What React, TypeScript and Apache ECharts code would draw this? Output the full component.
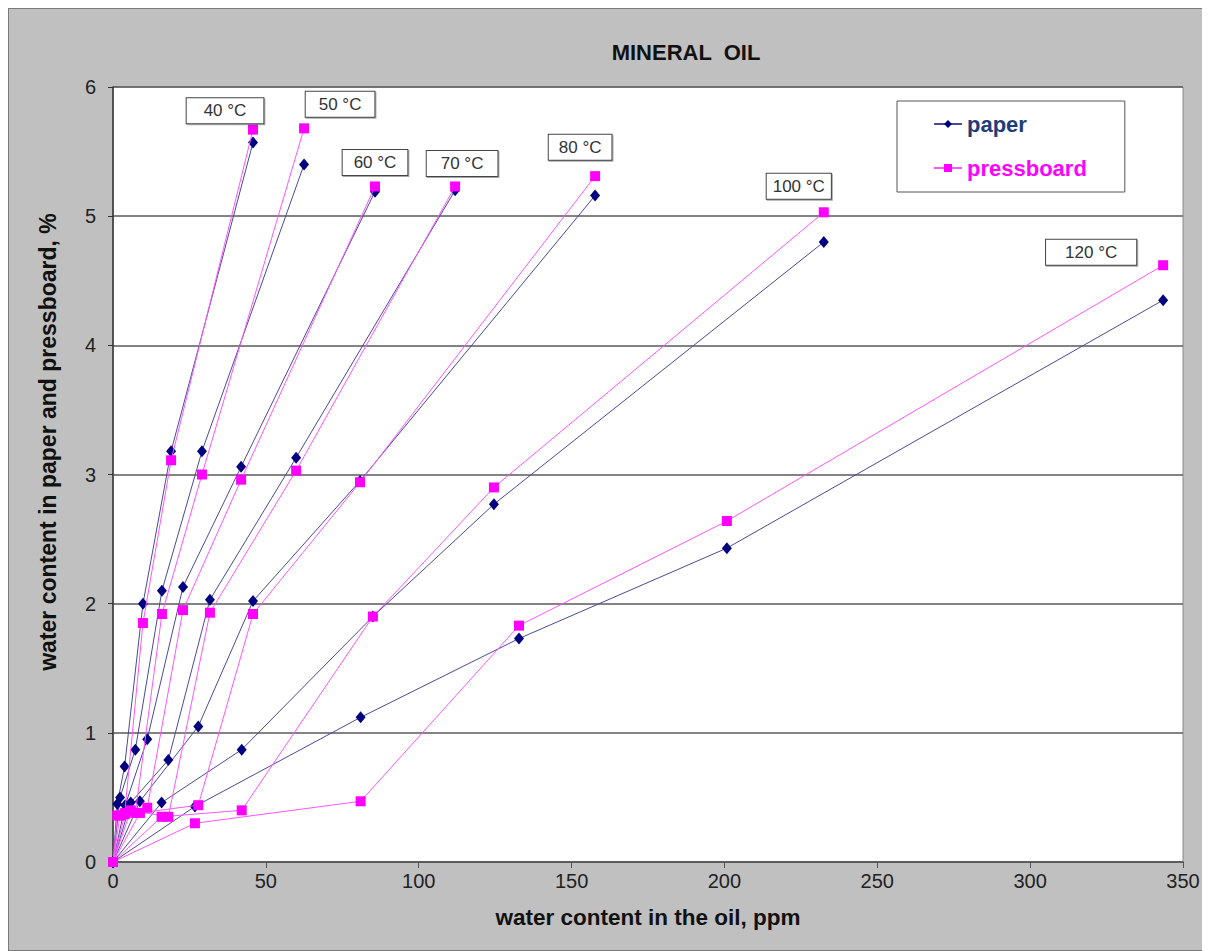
import React, { useEffect, useRef } from "react";
import * as echarts from "echarts";

// ---- data ----
const temperatures = ["40 °C", "50 °C", "60 °C", "70 °C", "80 °C", "100 °C", "120 °C"];

// water content in oil, ppm (shared by paper and pressboard points of one isotherm)
const oil40 = [0, 1.4, 3.8, 9.8, 19, 45.8];
const oil50 = [0, 2.3, 7.3, 16, 29.1, 62.5];
const oil60 = [0, 4, 11.2, 22.9, 41.9, 85.7];
const oil70 = [0, 5.8, 18.1, 31.7, 59.9, 111.9];
const oil80 = [0, 8.8, 27.9, 45.8, 80.8, 157.7];
const oil100 = [0, 15.9, 42.1, 85, 124.6, 232.5];
const oil120 = [0, 26.8, 81, 132.8, 200.8, 343.5];

// water content in paper, %
const paper40 = [0, 0.45, 0.74, 2.0, 3.18, 5.57];
const paper50 = [0, 0.5, 0.87, 2.1, 3.18, 5.4];
const paper60 = [0, 0.44, 0.95, 2.13, 3.06, 5.19];
const paper70 = [0, 0.46, 0.79, 2.03, 3.13, 5.2];
const paper80 = [0, 0.47, 1.05, 2.02, 2.95, 5.16];
const paper100 = [0, 0.46, 0.87, 1.9, 2.77, 4.8];
const paper120 = [0, 0.43, 1.12, 1.73, 2.43, 4.35];

// water content in pressboard, %
const board40 = [0, 0.36, 0.37, 1.85, 3.11, 5.67];
const board50 = [0, 0.36, 0.38, 1.92, 3.0, 5.68];
const board60 = [0, 0.38, 0.42, 1.95, 2.96, 5.23];
const board70 = [0, 0.4, 0.35, 1.93, 3.03, 5.23];
const board80 = [0, 0.38, 0.44, 1.92, 2.94, 5.31];
const board100 = [0, 0.35, 0.4, 1.9, 2.9, 5.03];
const board120 = [0, 0.3, 0.47, 1.83, 2.64, 4.62];

const xTicks = [0, 50, 100, 150, 200, 250, 300, 350];
const yTicks = [0, 1, 2, 3, 4, 5, 6];

const oilList = [oil40, oil50, oil60, oil70, oil80, oil100, oil120];
const paperList = [paper40, paper50, paper60, paper70, paper80, paper100, paper120];
const boardList = [board40, board50, board60, board70, board80, board100, board120];

// label box placement relative to the last pressboard point (pixels) and box padding
const labelOffsets = [[-28, -19], [36, -24], [0, -24], [7, -23], [-15, -29], [-25, -26], [-72, -13]];
const labelPadX = [17, 13, 11, 14, 10, 6, 19];

const FONT = "'Liberation Sans', Arial, Helvetica, sans-serif";
const PAPER_COLOR = "#000080";
const BOARD_COLOR = "#ff00ff";

export default function App() {
  const ref = useRef<HTMLDivElement>(null);

  useEffect(() => {
    if (!ref.current) return;
    const chart = echarts.init(ref.current, undefined, { renderer: "svg" });

    const series: any[] = [];
    temperatures.forEach((t, k) => {
      const oil = oilList[k];
      series.push({
        name: "paper",
        type: "line",
        data: oil.map((x, i) => [x, paperList[k][i]]),
        symbol: "diamond",
        symbolSize: [10, 12],
        itemStyle: { color: PAPER_COLOR },
        lineStyle: { color: "#4a4a98", width: 1 },
        z: 2,
      });
    });
    temperatures.forEach((t, k) => {
      const oil = oilList[k];
      const n = oil.length;
      series.push({
        name: "pressboard",
        type: "line",
        data: oil.map((x, i) => {
          const item: any = { value: [x, boardList[k][i]] };
          if (i === n - 1) {
            item.label = {
              show: true,
              position: "inside",
              offset: labelOffsets[k],
              formatter: t,
              fontFamily: FONT,
              fontSize: 17,
              color: "#333",
              backgroundColor: "#fff",
              borderColor: "#444",
              borderWidth: 1,
              padding: [5, labelPadX[k], 3, labelPadX[k]],
              shadowColor: "rgba(0,0,0,0.35)",
              shadowOffsetX: 1,
              shadowOffsetY: 1,
              shadowBlur: 1,
            };
          }
          return item;
        }),
        symbol: "rect",
        symbolSize: 10,
        itemStyle: { color: BOARD_COLOR },
        lineStyle: { color: "#ff55ff", width: 1 },
        z: 3,
      });
    });

    chart.setOption({
      animation: false,
      backgroundColor: "#c0c0c0",
      textStyle: { fontFamily: FONT },
      grid: {
        left: 104,
        right: 26,
        top: 78,
        bottom: 88,
        show: true,
        backgroundColor: "#ffffff",
        borderColor: "#8a8a8a",
        borderWidth: 1,
      },
      graphic: [
        {
          type: "text",
          x: 677,
          y: 43,
          style: {
            text: "MINERAL  OIL",
            font: `bold 22px ${FONT}`,
            fill: "#111",
            textAlign: "center",
            textVerticalAlign: "middle",
          },
        },
        {
          type: "text",
          x: 39,
          y: 433,
          rotation: Math.PI / 2,
          style: {
            text: "water content in paper and pressboard, %",
            font: `bold 23px ${FONT}`,
            fill: "#111",
            textAlign: "center",
            textVerticalAlign: "middle",
          },
        },
      ],
      legend: {
        data: [
          { name: "paper", textStyle: { color: "#1f3d7a" } },
          { name: "pressboard", textStyle: { color: BOARD_COLOR } },
        ],
        orient: "vertical",
        left: 888,
        top: 92,
        itemWidth: 28,
        itemHeight: 10,
        itemGap: 22,
        padding: [12, 38, 13, 36],
        backgroundColor: "#ffffff",
        borderColor: "#555",
        borderWidth: 1,
        textStyle: { fontFamily: FONT, fontSize: 22, fontWeight: "bold" },
        selectedMode: false,
      },
      xAxis: {
        type: "value",
        min: 0,
        max: 350,
        interval: 50,
        name: "water content in the oil, ppm",
        nameLocation: "middle",
        nameGap: 44,
        nameTextStyle: { fontFamily: FONT, fontSize: 22.5, fontWeight: "bold", color: "#111" },
        axisLine: { show: true, lineStyle: { color: "#555", width: 1.5 } },
        axisTick: { show: true, length: 6, lineStyle: { color: "#555" } },
        axisLabel: {
          fontFamily: FONT,
          fontSize: 20,
          color: "#222",
          margin: 9,
          formatter: (v: number) => (xTicks.includes(v) ? String(v) : ""),
        },
        splitLine: { show: false },
      },
      yAxis: {
        type: "value",
        min: 0,
        max: 6,
        interval: 1,
        axisLine: { show: true, lineStyle: { color: "#333", width: 1.5 } },
        axisTick: { show: true, length: 5, lineStyle: { color: "#333" } },
        axisLabel: {
          fontFamily: FONT,
          fontSize: 20,
          color: "#222",
          margin: 17,
          formatter: (v: number) => (yTicks.includes(v) ? String(v) : ""),
        },
        splitLine: { show: true, lineStyle: { color: "#5a5a5a", width: 1.5 } },
      },
      series,
    });

    return () => chart.dispose();
  }, []);

  return (
    <div
      style={{
        width: 1202,
        height: 943,
        border: "1px solid #7a7a7a",
        boxSizing: "border-box",
        background: "#c0c0c0",
      }}
    >
      <div ref={ref} style={{ width: 1200, height: 941 }} />
    </div>
  );
}
